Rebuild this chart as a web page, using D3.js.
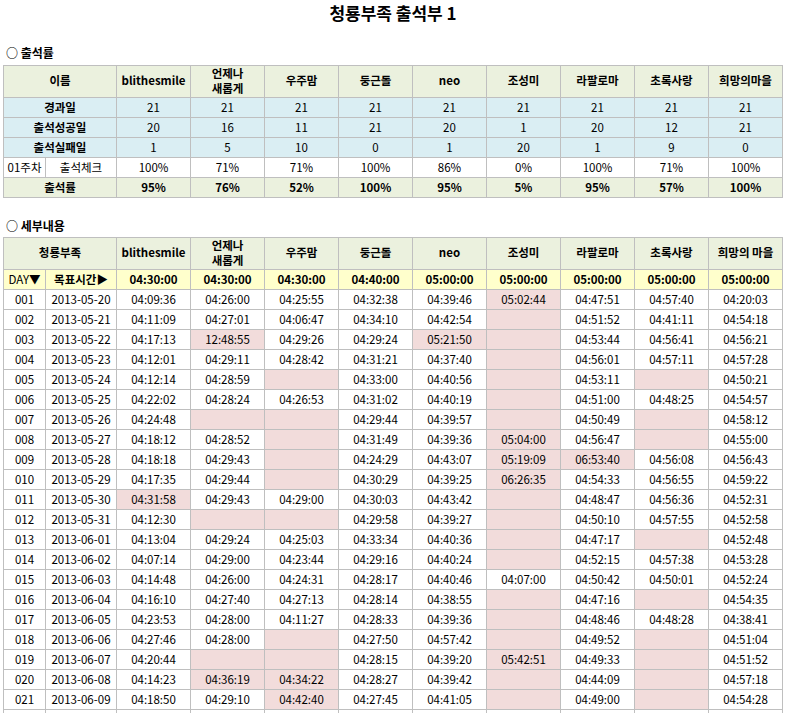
<!DOCTYPE html>
<html>
<head>
<meta charset="utf-8">
<script src="https://cdn.jsdelivr.net/npm/d3@7"></script>
<style>
body { margin: 0; background: #fff; }
text { font-family: "Noto Sans CJK KR", "DejaVu Sans", sans-serif; font-size: 11.5px; fill: #000; }
</style>
</head>
<body>
<svg id="chart" width="787" height="713"></svg>
<script>
// data
var names = ["blithesmile", "언제나\n새롭게", "우주맘", "둥근돌", "neo", "조성미", "라팔로마", "초록사랑", "희망의마을"];
var names2 = ["blithesmile", "언제나\n새롭게", "우주맘", "둥근돌", "neo", "조성미", "라팔로마", "초록사랑", "희망의 마을"];
var elapsed = [21, 21, 21, 21, 21, 21, 21, 21, 21];
var success = [20, 16, 11, 21, 20, 1, 20, 12, 21];
var fail = [1, 5, 10, 0, 1, 20, 1, 9, 0];
var week1 = ["100%", "71%", "71%", "100%", "86%", "0%", "100%", "71%", "100%"];
var rate = ["95%", "76%", "52%", "100%", "95%", "5%", "95%", "57%", "100%"];
var targets = ["04:30:00", "04:30:00", "04:30:00", "04:40:00", "05:00:00", "05:00:00", "05:00:00", "05:00:00", "05:00:00"];
var dates = ["2013-05-20", "2013-05-21", "2013-05-22", "2013-05-23", "2013-05-24", "2013-05-25", "2013-05-26",
  "2013-05-27", "2013-05-28", "2013-05-29", "2013-05-30", "2013-05-31", "2013-06-01", "2013-06-02",
  "2013-06-03", "2013-06-04", "2013-06-05", "2013-06-06", "2013-06-07", "2013-06-08", "2013-06-09"];
var times = [
  ["04:09:36","04:11:09","04:17:13","04:12:01","04:12:14","04:22:02","04:24:48","04:18:12","04:18:18","04:17:35","04:31:58","04:12:30","04:13:04","04:07:14","04:14:48","04:16:10","04:23:53","04:27:46","04:20:44","04:14:23","04:18:50"],
  ["04:26:00","04:27:01","12:48:55","04:29:11","04:28:59","04:28:24","","04:28:52","04:29:43","04:29:44","04:29:43","","04:29:24","04:29:00","04:26:00","04:27:40","04:28:00","04:28:00","","04:36:19","04:29:10"],
  ["04:25:55","04:06:47","04:29:26","04:28:42","","04:26:53","","","","","04:29:00","","04:25:03","04:23:44","04:24:31","04:27:13","04:11:27","","","04:34:22","04:42:40"],
  ["04:32:38","04:34:10","04:29:24","04:31:21","04:33:00","04:31:02","04:29:44","04:31:49","04:24:29","04:30:29","04:30:03","04:29:58","04:33:34","04:29:16","04:28:17","04:28:14","04:28:33","04:27:50","04:28:15","04:28:27","04:27:45"],
  ["04:39:46","04:42:54","05:21:50","04:37:40","04:40:56","04:40:19","04:39:57","04:39:36","04:43:07","04:39:25","04:43:42","04:39:27","04:40:36","04:40:24","04:40:46","04:38:55","04:39:36","04:57:42","04:39:20","04:39:42","04:41:05"],
  ["05:02:44","","","","","","","05:04:00","05:19:09","06:26:35","","","","","04:07:00","","","","05:42:51","",""],
  ["04:47:51","04:51:52","04:53:44","04:56:01","04:53:11","04:51:00","04:50:49","04:56:47","06:53:40","04:54:33","04:48:47","04:50:10","04:47:17","04:52:15","04:50:42","04:47:16","04:48:46","04:49:52","04:49:33","04:44:09","04:49:00"],
  ["04:57:40","04:41:11","04:56:41","04:57:11","","04:48:25","","","04:56:08","04:56:55","04:56:36","04:57:55","","04:57:38","04:50:01","","04:48:28","","","",""],
  ["04:20:03","04:54:18","04:56:21","04:57:28","04:50:21","04:54:57","04:58:12","04:55:00","04:56:43","04:59:22","04:52:31","04:52:58","04:52:48","04:53:28","04:52:24","04:54:35","04:38:41","04:51:04","04:51:52","04:57:18","04:54:28"]
];

var C = { head: "#ebf1de", blue: "#daeef3", yellow: "#ffffcc", pink: "#f2dcdb", line: "#bfbfbf" };
var svg = d3.select("#chart");

var x0 = 3.5, xSplit = 45.5, xName = 116.5, colW = 74;
var x = d3.scaleLinear().domain([0, 9]).range([xName, xName + 9 * colW]);

function cell(x1, y1, w, h, fill) {
  svg.append("rect").attr("x", x1).attr("y", y1).attr("width", w).attr("height", h)
    .attr("fill", fill).attr("stroke", C.line).attr("stroke-width", 1);
}
function label(t, cx, cy, bold) {
  var lines = String(t).split("\n");
  var el = svg.append("text").attr("text-anchor", "middle").attr("font-weight", bold ? "bold" : null);
  lines.forEach(function(s, i) {
    el.append("tspan").attr("x", cx).attr("y", cy + 4 + (i - (lines.length - 1) / 2) * 15).text(s);
  });
}

// title
svg.append("text").attr("x", 393).attr("y", 20).attr("text-anchor", "middle")
  .style("font-size", "17px").attr("font-weight", "bold").text("청룡부족 출석부 1");
svg.append("text").attr("x", 6).attr("y", 58).style("font-size", "12px").attr("font-weight", "bold").text("○ 출석률");
svg.append("text").attr("x", 6).attr("y", 231).style("font-size", "12px").attr("font-weight", "bold").text("○ 세부내용");

// summary table
var y1 = d3.scaleLinear().domain([0, 1]).range([97.5, 117.5]);
cell(x0, 65.5, xName - x0, 32, C.head);
label("이름", (x0 + xName) / 2, 81, true);
names.forEach(function(n, i) {
  cell(x(i), 65.5, colW, 32, C.head);
  label(n, x(i) + colW / 2, 81, true);
});
var rows1 = [
  { t: "경과일", v: elapsed, fill: C.blue, bold: false },
  { t: "출석성공일", v: success, fill: C.blue, bold: false },
  { t: "출석실패일", v: fail, fill: C.blue, bold: false },
  { t: "", v: week1, fill: "#fff", bold: false },
  { t: "출석률", v: rate, fill: C.head, bold: true }
];
rows1.forEach(function(r, ri) {
  var yy = y1(ri);
  if (r.t === "") {
    cell(x0, yy, xSplit - x0, 20, r.fill);
    cell(xSplit, yy, xName - xSplit, 20, r.fill);
    label("01주차", (x0 + xSplit) / 2, yy + 10, false);
    label("출석체크", (xSplit + xName) / 2, yy + 10, false);
  } else {
    cell(x0, yy, xName - x0, 20, r.fill);
    label(r.t, (x0 + xName) / 2, yy + 10, true);
  }
  r.v.forEach(function(v, i) {
    cell(x(i), yy, colW, 20, r.fill);
    label(v, x(i) + colW / 2, yy + 10, r.bold);
  });
});

// detail table
function sec(s) { var p = s.split(":"); return +p[0] * 3600 + +p[1] * 60 + +p[2]; }
var y2 = d3.scaleLinear().domain([0, 1]).range([289.5, 309.5]);
cell(x0, 237.5, xName - x0, 32, C.head);
label("청룡부족", (x0 + xName) / 2, 253, true);
names2.forEach(function(n, i) {
  cell(x(i), 237.5, colW, 32, C.head);
  label(n, x(i) + colW / 2, 253, true);
});
cell(x0, 269.5, xSplit - x0, 20, C.yellow);
cell(xSplit, 269.5, xName - xSplit, 20, C.yellow);
label("DAY▼", (x0 + xSplit) / 2, 279.5, false);
label("목표시간▶", (xSplit + xName) / 2, 279.5, true);
targets.forEach(function(t, i) {
  cell(x(i), 269.5, colW, 20, C.yellow);
  label(t, x(i) + colW / 2, 279.5, true);
});
dates.concat([""]).forEach(function(d, ri) {
  var yy = y2(ri);
  cell(x0, yy, xSplit - x0, 20, "#fff");
  cell(xSplit, yy, xName - xSplit, 20, "#fff");
  if (d !== "") {
    label(d3.format("03d")(ri + 1), (x0 + xSplit) / 2, yy + 10, false);
    label(d, (xSplit + xName) / 2, yy + 10, false);
  }
  times.forEach(function(col, i) {
    var v = col[ri];
    var late = d !== "" && (v === "" || sec(v) > sec(targets[i]));
    cell(x(i), yy, colW, 20, late ? C.pink : "#fff");
    if (v) label(v, x(i) + colW / 2, yy + 10, false);
  });
});
</script>
</body>
</html>
